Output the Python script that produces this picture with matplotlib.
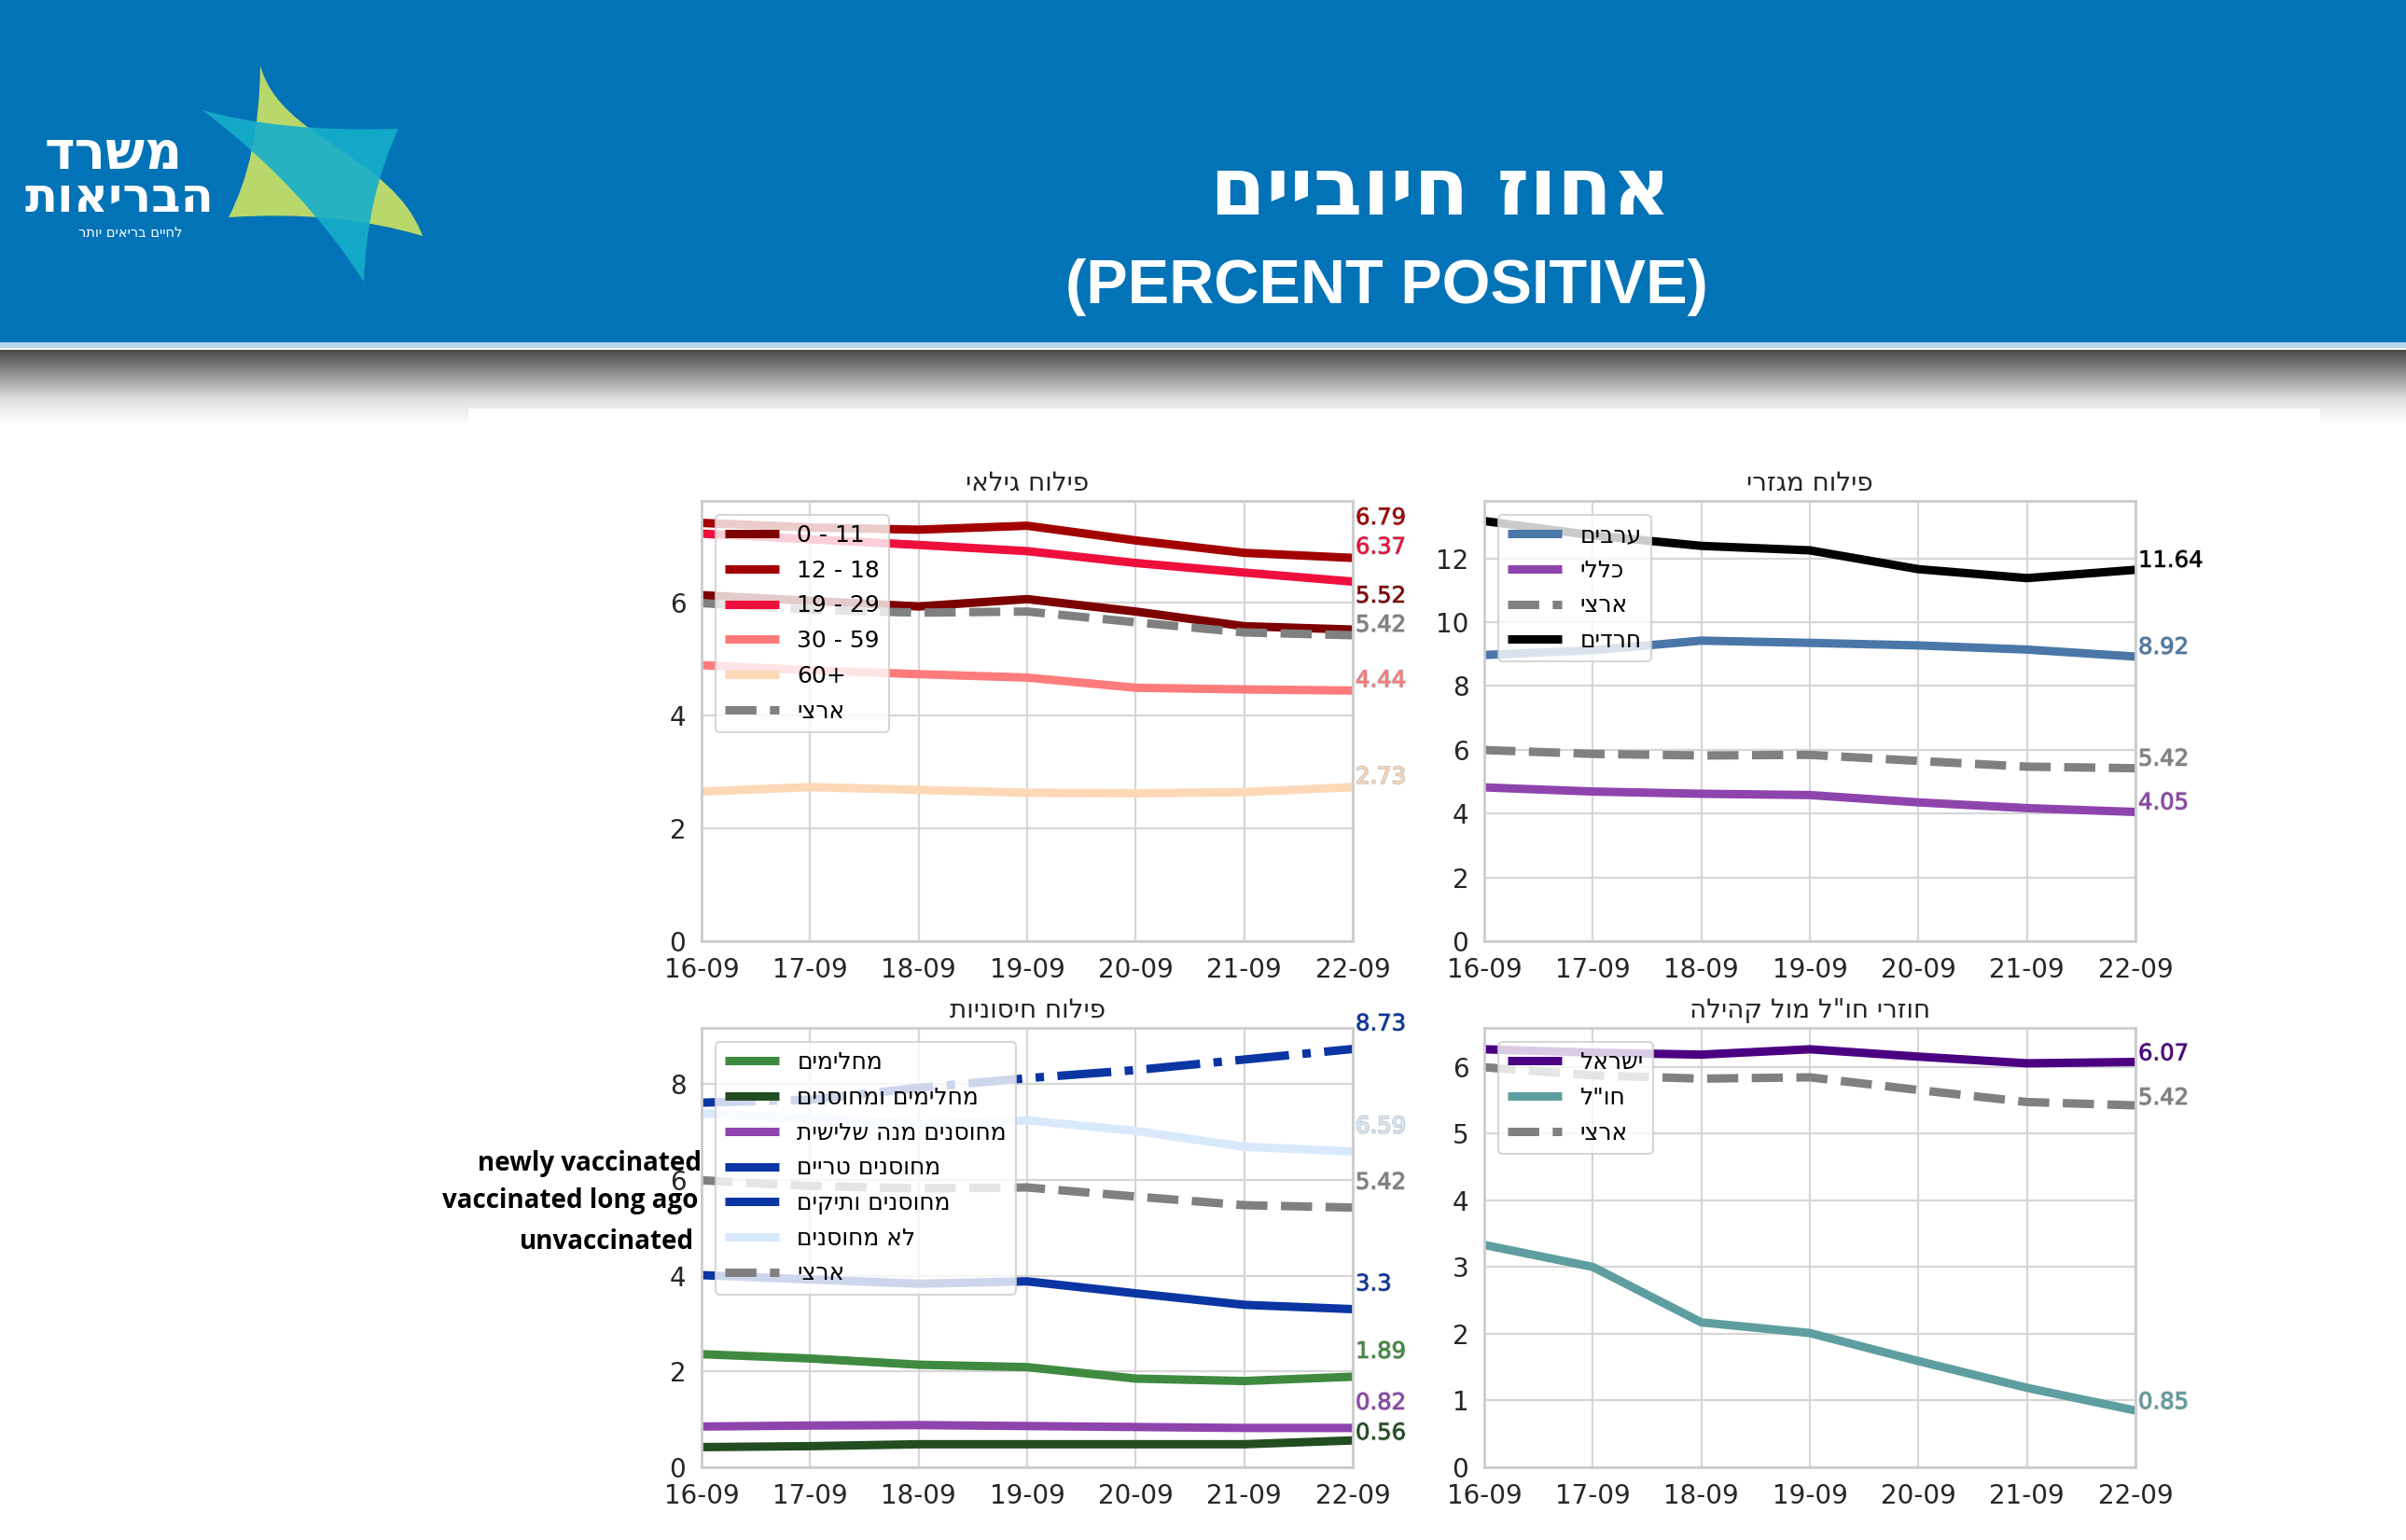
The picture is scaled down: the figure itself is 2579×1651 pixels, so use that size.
import matplotlib
matplotlib.use("Agg")
import matplotlib.pyplot as plt
import matplotlib.patheffects as pe
from matplotlib.path import Path
from matplotlib.patches import PathPatch, Rectangle
from matplotlib.colors import LinearSegmentedColormap
import numpy as np

W, H = 2579, 1651
DPI = 100
PX = 72.0 / DPI  # points per pixel

plt.rcParams["font.family"] = ["DejaVu Sans"]


def heb(s):
    # matplotlib has no bidi, so hebrew is written in visual order
    return s[::-1]


# ---------------- data ----------------
dates = ["16-09", "17-09", "18-09", "19-09", "20-09", "21-09", "22-09"]

national = [5.99, 5.87, 5.82, 5.84, 5.65, 5.47, 5.42]

# age groups
age_0_11 = [6.13, 6.03, 5.93, 6.06, 5.84, 5.58, 5.52]
age_12_18 = [7.41, 7.33, 7.29, 7.36, 7.10, 6.88, 6.79]
age_19_29 = [7.22, 7.12, 7.02, 6.91, 6.70, 6.53, 6.37]
age_30_59 = [4.89, 4.80, 4.73, 4.67, 4.49, 4.46, 4.44]
age_60 = [2.65, 2.73, 2.68, 2.63, 2.62, 2.64, 2.73]

# sectors
arabs = [8.97, 9.12, 9.42, 9.35, 9.27, 9.14, 8.92]
general = [4.82, 4.69, 4.62, 4.58, 4.35, 4.17, 4.05]
haredi = [13.17, 12.72, 12.39, 12.25, 11.66, 11.38, 11.64]

# immunity
recovered = [2.36, 2.27, 2.14, 2.09, 1.85, 1.80, 1.89]
recovered_vacc = [0.42, 0.44, 0.48, 0.48, 0.48, 0.48, 0.56]
third_dose = [0.85, 0.87, 0.88, 0.86, 0.84, 0.82, 0.82]
vacc_new = [4.01, 3.92, 3.83, 3.88, 3.63, 3.39, 3.30]
vacc_old = [7.61, 7.67, 7.92, 8.12, 8.29, 8.51, 8.73]
unvacc = [7.39, 7.27, 7.17, 7.24, 7.02, 6.69, 6.59]

# returning from abroad vs community
israel = [6.26, 6.21, 6.18, 6.26, 6.15, 6.05, 6.07]
abroad = [3.33, 3.00, 2.17, 2.01, 1.59, 1.19, 0.85]

# (label, values, color, linestyle, label offset px)
panels = [
    {
        "title": "פילוח גילאי",
        "rect": (752, 537, 1450, 1009),
        "ylim": 7.8, "yticks": [0, 2, 4, 6],
        "series": [
            ("0 - 11", age_0_11, "#7d0000", "-", 36),
            ("12 - 18", age_12_18, "#a30000", "-", 43),
            ("19 - 29", age_19_29, "#ef0f3d", "-", 37),
            ("30 - 59", age_30_59, "#fe7b7b", "-", 11),
            ("60+", age_60, "#fdd8b6", "-", 11),
            ("ארצי", national, "#808080", "--", 11),
        ],
    },
    {
        "title": "פילוח מגזרי",
        "rect": (1591, 537, 2289, 1009),
        "ylim": 13.8, "yticks": [0, 2, 4, 6, 8, 10, 12],
        "series": [
            ("ערבים", arabs, "#4a77a8", "-", 10),
            ("כללי", general, "#8e44ad", "-", 10),
            ("ארצי", national, "#808080", "--", 10),
            ("חרדים", haredi, "#000000", "-", 10),
        ],
    },
    {
        "title": "פילוח חיסוניות",
        "rect": (752, 1102, 1450, 1573),
        "ylim": 9.17, "yticks": [0, 2, 4, 6, 8],
        "series": [
            ("מחלימים", recovered, "#3f8a40", "-", 27),
            ("מחלימים ומחוסנים", recovered_vacc, "#224d20", "-", 8),
            ("מחוסנים מנה שלישית", third_dose, "#8e44ad", "-", 27),
            ("מחוסנים טריים", vacc_new, "#0a35a3", "-", 27),
            ("מחוסנים ותיקים", vacc_old, "#0a35a3", "-.", 27),
            ("לא מחוסנים", unvacc, "#d9e9fc", "-", 27),
            ("ארצי", national, "#808080", "--", 27),
        ],
    },
    {
        "title": "חוזרי חו\"ל מול קהילה",
        "rect": (1591, 1102, 2289, 1573),
        "ylim": 6.58, "yticks": [0, 1, 2, 3, 4, 5, 6],
        "series": [
            ("ישראל", israel, "#4b0082", "-", 9),
            ("חו\"ל", abroad, "#5f9ea0", "-", 9),
            ("ארצי", national, "#808080", "--", 8),
        ],
    },
]

fig = plt.figure(figsize=(W / DPI, H / DPI), dpi=DPI)
fig.patch.set_facecolor("white")

# ---------------- slide background ----------------
bg = fig.add_axes([0, 0, 1, 1], zorder=-10)
bg.set_xlim(0, W)
bg.set_ylim(H, 0)
bg.axis("off")

bg.add_patch(Rectangle((0, 0), W, 367, color="#0273b6", lw=0))
bg.add_patch(Rectangle((0, 367), W, 6, color="#b5d7ea", lw=0))
grad = LinearSegmentedColormap.from_list("shade", ["#4a4a4a", "#959595", "#e2e2e2", "#ffffff"])
bg.imshow(np.linspace(0, 1, 200).reshape(-1, 1), cmap=grad, aspect="auto",
          extent=[0, W, 456, 375], zorder=1)
bg.add_patch(Rectangle((502, 438), 1985, H - 438, color="white", lw=0, zorder=2))


def shape(ax, start, segments, color, alpha):
    # segments: list of (kind, points) with kind 3 = quadratic, 4 = cubic
    verts, codes = [start], [Path.MOVETO]
    for kind, pts in segments:
        code = Path.CURVE3 if kind == 3 else Path.CURVE4
        verts += pts
        codes += [code] * len(pts)
    verts.append(start)
    codes.append(Path.CLOSEPOLY)
    ax.add_patch(PathPatch(Path(verts, codes), facecolor=color, edgecolor="none",
                           alpha=alpha, zorder=3))


# logo star: lime sail under a teal sail
shape(bg, (279, 70), [
    (4, [(300, 150), (420, 165), (453, 253)]),
    (3, [(360, 225), (245, 233)]),
    (3, [(278, 170), (279, 70)]),
], "#b9d86b", 1.0)
shape(bg, (217, 118), [
    (3, [(300, 142), (427, 138)]),
    (3, [(393, 212), (390, 302)]),
    (3, [(325, 200), (217, 118)]),
], "#17aecb", 0.9)

bg.text(196, 166, heb("משרד"), color="white", fontsize=40, fontweight="bold",
        ha="right", va="center", zorder=4)
bg.text(229, 213, heb("הבריאות"), color="white", fontsize=37, fontweight="bold",
        ha="right", va="center", zorder=4)
bg.text(196, 249, heb("לחיים בריאים יותר"), color="white", fontsize=10.5,
        ha="right", va="center", zorder=4)

# header titles
bg.text(1544, 207, heb("אחוז חיוביים"), color="white", fontsize=62, fontweight="bold",
        ha="center", va="center", zorder=4)
bg.text(1486, 308, "(PERCENT POSITIVE)", color="white", fontsize=48, fontweight="bold",
        family=["Liberation Sans Narrow", "Liberation Sans"], ha="center", va="center", zorder=4)

# ---------------- charts ----------------
x = np.arange(len(dates))
for p in panels:
    l, t, r, b = p["rect"]
    ax = fig.add_axes([l / W, 1 - b / H, (r - l) / W, (b - t) / H])
    ax.set_facecolor("white")
    for name, vals, color, ls, dy in p["series"]:
        label = name if name[0].isdigit() else heb(name)
        ax.plot(x, vals, color=color, ls=ls, lw=6.5, label=label,
                solid_capstyle="butt", dash_capstyle="butt")
        ax.annotate(f"{vals[-1]:g}", xy=(x[-1], vals[-1]), xytext=(3 * PX, dy * PX),
                    textcoords="offset points", ha="left", va="center",
                    fontsize=17.5, color=color, annotation_clip=False,
                    path_effects=[pe.withStroke(linewidth=1.4, foreground=(0, 0, 0, 0.22))])
    ax.set_xlim(0, len(dates) - 1)
    ax.set_ylim(0, p["ylim"])
    ax.set_xticks(x)
    ax.set_xticklabels(dates)
    ax.set_yticks(p["yticks"])
    ax.tick_params(length=0, labelsize=20, labelcolor="#262626", pad=12)
    ax.grid(True, color="#d6d6d6", lw=1.6)
    ax.set_axisbelow(True)
    for s in ax.spines.values():
        s.set_color("#cccccc")
        s.set_linewidth(2)
    ax.set_title(heb(p["title"]), fontsize=20, color="#262626", pad=8)
    leg = ax.legend(loc="upper left", fontsize=18, handlelength=2.3, borderaxespad=0.6,
                    framealpha=0.8, edgecolor="#cccccc", labelspacing=0.55)
    leg.get_frame().set_linewidth(1.5)

# english notes next to the immunity chart
note_kw = dict(color="black", fontsize=20, fontweight="bold", ha="right", va="center",
               family=["Open Sans", "DejaVu Sans"])
fig.text(752 / W, 1 - 1247 / H, "newly vaccinated", **note_kw)
fig.text(748 / W, 1 - 1287 / H, "vaccinated long ago", **note_kw)
fig.text(744 / W, 1 - 1331 / H, "unvaccinated", **note_kw)

fig.savefig("out.png", dpi=DPI)
